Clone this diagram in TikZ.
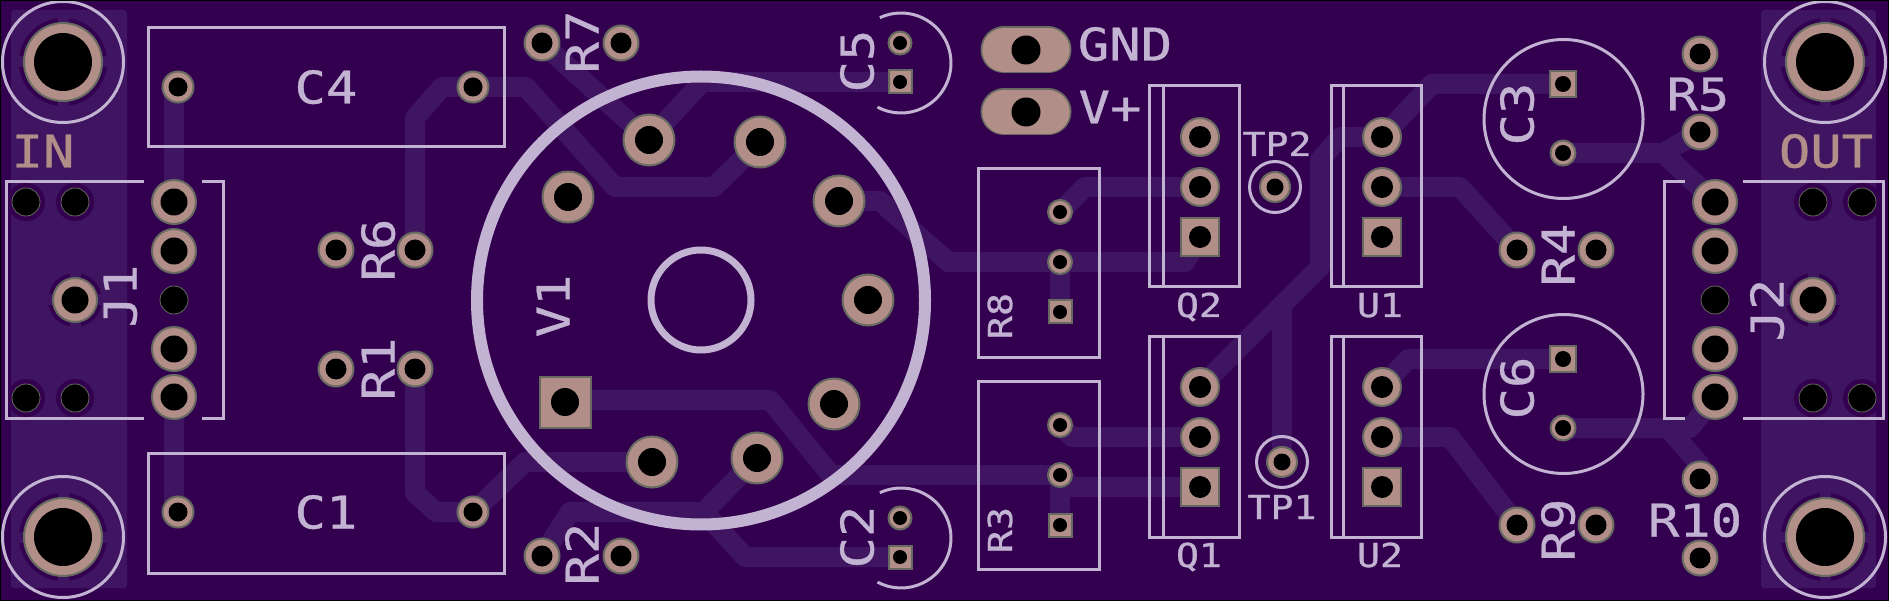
\documentclass[tikz,border=0pt]{standalone}
\usepackage{fontspec}
\newfontfamily\silkfont[FakeStretch=1.16,FakeBold=0.8]{DejaVu Sans Mono}
\definecolor{bgc}{HTML}{33004F}
\definecolor{pourc}{HTML}{3F1561}
\definecolor{silkc}{HTML}{C3B3D3}
\definecolor{padc}{HTML}{B28E89}
\definecolor{padedge}{HTML}{666A60}
\tikzset{
  trace/.style={draw=pourc,line width=20pt,line join=round,line cap=round},
  silkline/.style={draw=silkc,line width=3pt},
  padshape/.style={fill=padc,draw=padedge,line width=2pt},
  holeshape/.style={fill=black},
  bigtext/.style={text=silkc,inner sep=0pt,font=\silkfont\fontsize{45}{45}\selectfont,text height=33pt,text depth=0pt},
  smalltext/.style={text=silkc,inner sep=0pt,font=\silkfont\fontsize{33}{33}\selectfont,text height=24pt,text depth=0pt},
  coppertext/.style={bigtext,text=padc},
}
% round pad: x,y,pad radius,hole radius
\newcommand{\rpad}[4]{\draw[padshape] (#1,#2) circle[radius=#3-1];\fill[holeshape] (#1,#2) circle[radius=#4];}
% square pad: x,y,half size,hole radius
\newcommand{\spad}[4]{\draw[padshape] (#1-#3+1,#2-#3+1) rectangle (#1+#3-1,#2+#3-1);\fill[holeshape] (#1,#2) circle[radius=#4];}
% oblong pad: x,y
\newcommand{\opad}[2]{\draw[padedge,line width=47pt,line cap=round] (#1-22,#2) -- (#1+22,#2);\draw[padc,line width=43.5pt,line cap=round] (#1-22,#2) -- (#1+22,#2);\fill[holeshape] (#1,#2) circle[radius=14.5];}
% npth hole in pour
\newcommand{\npth}[2]{\fill[bgc] (#1,#2) circle[radius=19];\fill[black] (#1,#2) circle[radius=14];}
% thermal ring: x,y,radius
\newcommand{\thermal}[3]{\fill[bgc] (#1,#2) circle[radius=#3];\foreach \a in {0,90,180,270}{\draw[pourc,line width=11pt] (#1,#2) -- ++(\a:#3);}}
\begin{document}
\begin{tikzpicture}[x=1pt,y=-1pt]
\useasboundingbox (0,0) rectangle (1889,601);
\fill[bgc] (0,0) rectangle (1889,601);
% copper pours
\fill[pourc,rounded corners=3pt] (11,10) rectangle (127,588);
\fill[pourc,rounded corners=3pt] (1761,10) rectangle (1876,588);
% traces
\draw[trace] (174,87) -- (174,202);
\draw[trace] (174,397) -- (174,512);
\draw[trace] (415,250) -- (415,118) -- (442,87) -- (526,87) -- (615,187) -- (714,187) -- (760,142);
\draw[trace] (542,43) -- (649,140) -- (702,82) -- (900,82);
\draw[trace] (839,201) -- (880,201) -- (948,262) -- (1185,262) -- (1200,237);
\draw[trace] (1060,262) -- (1060,312);
\draw[trace] (1060,212) -- (1085,187) -- (1200,187);
\draw[trace] (1060,475) -- (1072,487) -- (1200,487);
\draw[trace] (1060,425) -- (1072,437) -- (1200,437);
\draw[trace] (1060,475) -- (1060,525);
\draw[trace] (565,400) -- (770,400) -- (831,475) -- (1060,475);
\draw[trace] (757,458) -- (704,512) -- (570,512) -- (542,556);
\draw[trace] (704,512) -- (745,557) -- (900,557);
\draw[trace] (652,462) -- (525,462) -- (473,512);
\draw[trace] (415,369) -- (415,493) -- (436,512) -- (473,512);
\draw[trace] (1382,137) -- (1432,84) -- (1563,84);
\draw[trace] (1382,137) -- (1340,137) -- (1320,160) -- (1320,267) -- (1200,387);
\draw[trace] (1282,462) -- (1282,305);
\draw[trace] (1382,187) -- (1460,187) -- (1517,250);
\draw[trace] (1563,153) -- (1663,153) -- (1700,132);
\draw[trace] (1663,153) -- (1715,202);
\draw[trace] (1382,387) -- (1408,359) -- (1563,359);
\draw[trace] (1382,437) -- (1450,437) -- (1517,525);
\draw[trace] (1563,428) -- (1690,428) -- (1715,397);
\draw[trace] (1668,428) -- (1700,465) -- (1700,479);
% clearance and thermals in pours
\thermal{63}{62}{44}
\thermal{63}{537}{44}
\thermal{1825}{62}{44}
\thermal{1825}{537}{44}
\thermal{75}{300}{27}
\thermal{1813}{300}{27}
\npth{26}{202}\npth{75}{202}\npth{26}{398}\npth{75}{398}
\npth{1813}{202}\npth{1862}{202}\npth{1813}{398}\npth{1862}{398}
\foreach \x/\y in {26/202,75/202,26/398,75/398,1813/202,1862/202,1813/398,1862/398,174/300,1715/300}{
  \fill[black] (\x,\y) circle[radius=14];
  \draw[padedge,line width=0.8pt] (\x,\y) circle[radius=14];
}
% mounting holes
\foreach \x/\y in {63/62,63/537,1825/62,1825/537}{\rpad{\x}{\y}{40}{29}}
% J1, J2 pads
\foreach \y in {202,251,349,397}{\rpad{174}{\y}{23}{13.5}\rpad{1715}{\y}{23}{13.5}}
\rpad{75}{300}{23}{13.5}
\rpad{1813}{300}{23}{13.5}
% C1, C4
\foreach \x/\y in {178/87,473/87,178/512,473/512}{\rpad{\x}{\y}{16.5}{9.5}}
% axial resistors
\foreach \x/\y in {542/43,621/43,336/250,415/250,336/369,415/369,542/556,621/556,1700/54,1700/132,1517/250,1596/250,1517/525,1596/525,1700/479,1700/558}{\rpad{\x}{\y}{18.5}{10.5}}
% V1
\spad{565}{402}{26.5}{14}
\foreach \x/\y in {568/197,649/140,760/142,839/201,868/300,834/404,757/458,652/462}{\rpad{\x}{\y}{26.5}{14}}
% C5, C2
\rpad{900}{43}{12.5}{7}
\spad{900}{82}{12.5}{7}
\rpad{900}{518}{12.5}{7}
\spad{900}{557}{12.5}{7}
% GND, V+
\opad{1026}{50}
\opad{1026}{112}
% Q, U
\foreach \x in {1200,1382}{
  \rpad{\x}{137}{20}{11}\rpad{\x}{187}{20}{11}\spad{\x}{237}{20}{11}
  \rpad{\x}{387}{20}{11}\rpad{\x}{437}{20}{11}\spad{\x}{487}{20}{11}
}
% R8, R3
\rpad{1060}{212}{13}{7}\rpad{1060}{262}{13}{7}\spad{1060}{312}{12.5}{7}
\rpad{1060}{425}{13}{7}\rpad{1060}{475}{13}{7}\spad{1060}{525}{12.5}{7}
% TP
\rpad{1275}{187}{16}{8.5}
\rpad{1282}{462}{16}{8.5}
% C3, C6
\spad{1563}{84}{14}{8}\rpad{1563}{153}{13.5}{8}
\spad{1563}{359}{14}{8}\rpad{1563}{428}{13.5}{8}
% silkscreen
\draw[silkline] (148,28) rectangle (504,147);
\draw[silkline] (148,453) rectangle (504,573);
\draw[silkline] (144,182) -- (6,182) -- (6,418) -- (144,418);
\draw[silkline] (202,182) -- (223,182) -- (223,418) -- (202,418);
\draw[silkline] (1685,182) -- (1664,182) -- (1664,418) -- (1685,418);
\draw[silkline] (1742.5,182) -- (1883,182) -- (1883,418) -- (1742.5,418);
\foreach \x/\y in {63/62,63/537,1825/62,1825/537}{\draw[silkline] (\x,\y) circle[radius=60.5];}
\draw[draw=silkc,line width=12pt] (701,300.5) circle[radius=224];
\draw[draw=silkc,line width=7pt] (701,300) circle[radius=50];
\draw[silkline] (901,63) ++(-115:50) arc[start angle=-115,end angle=118,radius=50];
\draw[silkline] (901,538) ++(-115:50) arc[start angle=-115,end angle=118,radius=50];
\draw[silkline] (978,169) rectangle (1099,357);
\draw[silkline] (978,381) rectangle (1099,569);
\foreach \x/\xi in {1149/1163,1331/1343}{
  \draw[silkline] (\x,86) rectangle (\x+90,287);
  \draw[silkline] (\xi,86) -- (\xi,287);
  \draw[silkline] (\x,337) rectangle (\x+90,537);
  \draw[silkline] (\xi,337) -- (\xi,537);
}
\draw[silkline] (1275,187) circle[radius=25.5];
\draw[silkline] (1282,462) circle[radius=25.5];
\draw[silkline] (1563.5,119) circle[radius=79.5];
\draw[silkline] (1563.5,394) circle[radius=79.5];
% texts
\node[coppertext] (tIN) at (43,151) {IN};
\node[coppertext] (tOUT) at (1826,151) {OUT};
\node[bigtext] (tC4) at (326,87) {C4};
\node[bigtext] (tC1) at (326,512) {C1};
\node[bigtext,rotate=90] (tJ1) at (120,296) {J1};
\node[bigtext,rotate=90] (tJ2) at (1767,310) {J2};
\node[bigtext,rotate=90] (tR7) at (582,42) {R7};
\node[bigtext,rotate=90] (tR6) at (378,250) {R6};
\node[bigtext,rotate=90] (tR1) at (378,369) {R1};
\node[bigtext,rotate=90] (tR2) at (582,554) {R2};
\node[bigtext,rotate=90] (tV1) at (553,306) {V1};
\node[bigtext,rotate=90] (tC5) at (857,61) {C5};
\node[bigtext,rotate=90] (tC2) at (857,537) {C2};
\node[bigtext] (tGND) at (1125,44) {GND};
\node[bigtext] (tVp) at (1110,107) {V+};
\node[smalltext] (tQ2) at (1199,305) {Q2};
\node[smalltext] (tQ1) at (1199,555) {Q1};
\node[smalltext] (tU1) at (1380,305) {U1};
\node[smalltext] (tU2) at (1380,555) {U2};
\node[smalltext,rotate=90] (tR8) at (1000,316) {R8};
\node[smalltext,rotate=90] (tR3) at (1000,530) {R3};
\node[smalltext] (tTP2) at (1277,144) {TP2};
\node[smalltext] (tTP1) at (1282,507) {TP1};
\node[bigtext,rotate=90] (tC3) at (1517,114) {C3};
\node[bigtext,rotate=90] (tC6) at (1517,388) {C6};
\node[bigtext] (tR5) at (1698,94) {R5};
\node[bigtext,rotate=90] (tR4) at (1558,255) {R4};
\node[bigtext,rotate=90] (tR9) at (1558,530) {R9};
\node[bigtext] (tR10) at (1695,520) {R10};
% board edge
\draw[black,line width=2pt] (0,0) rectangle (1889,601);
\end{tikzpicture}
\end{document}
